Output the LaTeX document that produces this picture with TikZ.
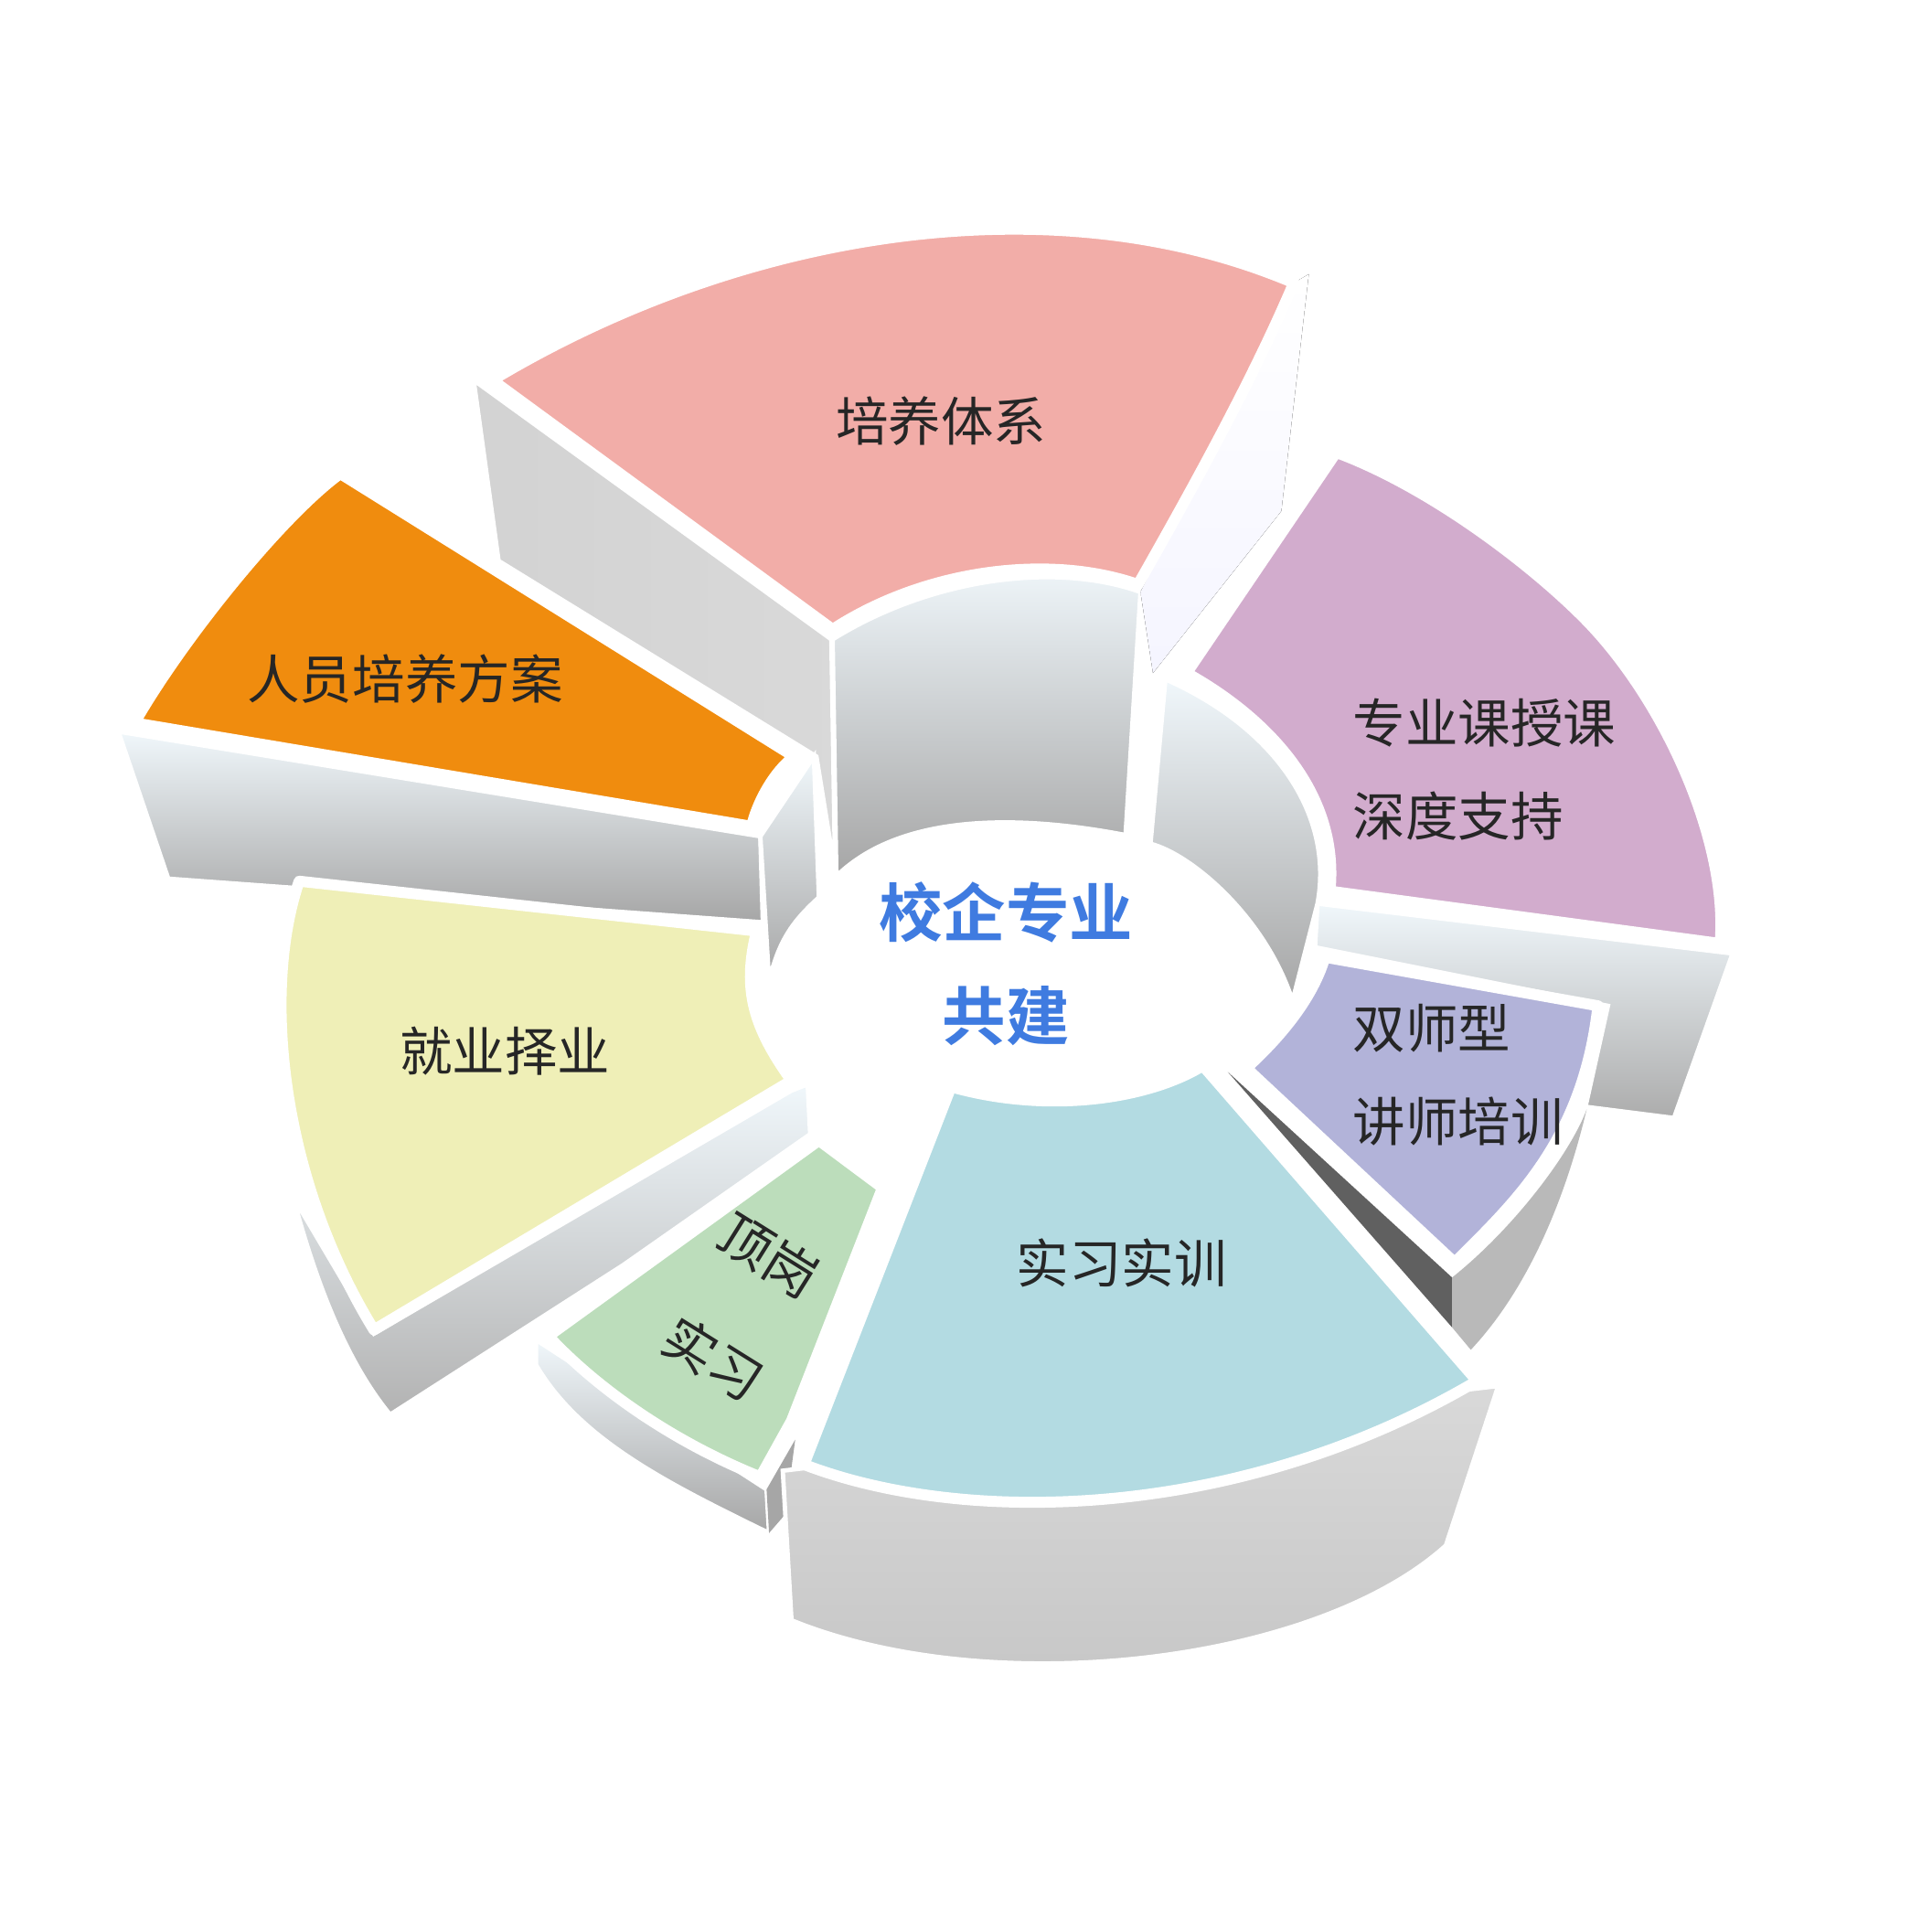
\documentclass[tikz,border=0pt]{standalone}
\usepackage{fontspec}
\newfontfamily\cjk{Noto Sans CJK SC}
\newfontfamily\cjkb{Noto Sans CJK SC Bold}
\definecolor{pinkc}{HTML}{F2ADA8}
\definecolor{orangec}{HTML}{F08C0E}
\definecolor{yellowc}{HTML}{EFEFB7}
\definecolor{greenc}{HTML}{BCDDBB}
\definecolor{bluec}{HTML}{B3DBE2}
\definecolor{lavc}{HTML}{B2B3D9}
\definecolor{purplec}{HTML}{D2ACCD}
\definecolor{pale}{HTML}{F0F7FB}
\definecolor{centc}{HTML}{3F7BE0}
\tikzset{
  top/.style={draw=white, line width=2.5pt, line join=round},
  sideface/.style={top color=pale, bottom color=#1, draw=white, line width=1pt},
  sideface/.default=gray!70,
  label/.style={font=\cjk\fontsize{12}{14}\selectfont, text=black!85},
  ctr/.style={font=\cjkb\fontsize{14.5}{17}\selectfont, text=centc}
}
\begin{document}
\begin{tikzpicture}[x=0.01cm, y=-0.01cm]
\useasboundingbox (5,5) rectangle (1555,1545);
% side faces
\fill[left color=gray!35, right color=gray!30, draw=white, line width=1pt] (385,310) -- (672,518) -- (675,705) -- (660,612) -- (405,455) -- cycle;
\fill[sideface] (673,518) .. controls (750,470) and (850,455) .. (920,480) -- (908,675) .. controls (830,660) and (730,655) .. (676,708) -- cycle;
\fill[top color=white, bottom color=blue!4] (1043,232) -- (1055,225) -- (1033,415) -- (930,545) -- (920,480) -- cycle;
\fill[sideface] (100,592) -- (615,676) -- (617,745) -- (140,710) -- cycle;
\fill[sideface] (615,676) -- (658,612) -- (662,725) .. controls (640,745) and (630,760) .. (622,792) -- cycle;
\fill[sideface=gray!60] (305,1075) -- (640,880) -- (653,875) -- (655,915) -- (505,1020) -- (318,1140) .. controls (285,1100) and (260,1040) .. (240,965) -- cycle;
\fill[sideface] (435,1080) -- (620,1200) -- (622,1235) .. controls (540,1195) and (470,1160) .. (435,1100) -- cycle;
\fill[gray!70] (620,1200) -- (643,1160) -- (635,1220) -- (622,1235) -- cycle;
\fill[top color=gray!30, bottom color=gray!45, draw=white, line width=1pt] (633,1185) -- (1207,1117) -- (1165,1245) .. controls (1060,1340) and (800,1370) .. (640,1305) -- cycle;
\fill[gray!75!black] (990,865) -- (1170,1030) -- (1170,1070) -- cycle;
\fill[gray!55] (1170,1030) .. controls (1220,990) and (1265,930) .. (1278,895) .. controls (1260,970) and (1230,1040) .. (1185,1088) -- (1170,1070) -- cycle;
\fill[sideface=gray!65] (1062,730) -- (1395,770) -- (1348,902) -- (1277,893) -- (1295,812) -- (1060,765) -- cycle;
\fill[sideface] (940,550) .. controls (1030,590) and (1075,660) .. (1062,730) -- (1042,808) .. controls (1020,740) and (960,690) .. (928,682) -- cycle;
% top faces
\fill[top, fill=pinkc] (400,310) .. controls (600,190) and (850,150) .. (1043,232) .. controls (1010,310) and (960,400) .. (918,474) .. controls (850,450) and (750,460) .. (673,510) -- cycle;
\fill[top, fill=orangec] (113,585) .. controls (150,520) and (230,420) .. (278,385) -- (642,612) .. controls (625,625) and (612,650) .. (608,668) -- cycle;
\fill[top, fill=yellowc] (245,712) -- (612,752) .. controls (600,800) and (610,830) .. (640,872) -- (305,1072) .. controls (230,950) and (215,800) .. (245,712) -- cycle;
\fill[top, fill=greenc] (662,920) -- (713,958) -- (640,1145) -- (615,1190) .. controls (540,1160) and (480,1115) .. (445,1077) -- cycle;
\fill[top, fill=bluec] (768,877) .. controls (850,900) and (930,885) .. (970,860) -- (1190,1113) .. controls (1000,1225) and (780,1230) .. (650,1180) -- cycle;
\fill[top, fill=lavc] (1068,773) -- (1287,812) .. controls (1275,920) and (1220,970) .. (1172,1018) -- (1005,862) .. controls (1040,830) and (1060,800) .. (1068,773) -- cycle;
\fill[top, fill=purplec] (1077,368) .. controls (1150,395) and (1230,455) .. (1275,500) .. controls (1340,565) and (1392,680) .. (1385,762) -- (1072,720) .. controls (1080,640) and (1020,580) .. (957,545) -- cycle;
% labels
\node[label] (pyt) at (760,343) {培养体系};
\node[label] (ryf) at (330,550) {人员培养方案};
\node[label] (jy) at (410,848) {就业择业};
\node[label, rotate=-32, inner sep=0pt] (dg) at (622,1012) {顶岗};
\node[label, rotate=-32, inner sep=0pt] (sx) at (577,1095) {实习};
\node[label] (sxsx) at (905,1018) {实习实训};
\node[label, anchor=west] (zy) at (1078,585) {专业课授课};
\node[label, anchor=west] (sd) at (1078,660) {深度支持};
\node[label, anchor=west] (ss) at (1078,830) {双师型};
\node[label, anchor=west] (js) at (1078,905) {讲师培训};
\node[ctr] (c1) at (812,737) {校企专业};
\node[ctr] (c2) at (812,820) {共建};
\end{tikzpicture}
\end{document}
